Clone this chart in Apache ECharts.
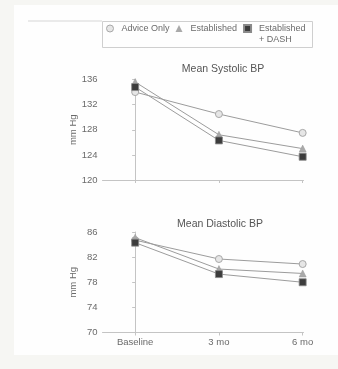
<!DOCTYPE html>
<html><head><meta charset="utf-8">
<script src="https://cdn.jsdelivr.net/npm/echarts@6/dist/echarts.min.js"></script>
<style>html,body{margin:0;padding:0;background:#f6f6f3}#c{width:338px;height:369px}</style>
</head><body><div id="c"></div>
<script>
var categories = ['Baseline', '3 mo', '6 mo'];
var seriesNames = ['Advice Only', 'Established', 'Established + DASH'];
var legendLabels = ['Advice Only', 'Established', ' \nEstablished\n+ DASH'];
var systolicAdvice = [134.0, 130.5, 127.5];
var systolicEstablished = [135.6, 127.2, 125.0];
var systolicDash = [134.8, 126.3, 123.7];
var diastolicAdvice = [84.7, 81.7, 80.9];
var diastolicEstablished = [85.1, 80.1, 79.4];
var diastolicDash = [84.3, 79.3, 78.0];
var systolicTicks = [120, 124, 128, 132, 136];
var diastolicTicks = [70, 74, 78, 82, 86];

var font = '"Liberation Sans", Arial, sans-serif';
var txt = '#6a6a6a';
var axisCol = '#c4c4c4';

function pts(arr){ return arr.map(function(v,i){ return [i, v]; }); }

var styles = [
  {symbol:'circle', size:7, item:{color:'#e6e6e6', borderColor:'#a8a8a8', borderWidth:1}},
  {symbol:'triangle', size:7, item:{color:'#a9a9a9', borderColor:'#9a9a9a', borderWidth:0.5}},
  {symbol:'rect', size:7, item:{color:'#3c3c3c', borderColor:'#8a8a8a', borderWidth:0.8}}
];

function mk(name, data, idx, style){
  return {
    type:'line', name:name, xAxisIndex:idx, yAxisIndex:idx, data:pts(data),
    symbol:style.symbol, symbolSize:style.size, showSymbol:true,
    lineStyle:{color:'#9c9c9c', width:1}, itemStyle:style.item,
    animation:false, z: 3
  };
}

function xAx(idx, showLabels){
  return {
    type:'value', gridIndex:idx, min:-0.39, max:2.01,
    splitLine:{show:false},
    axisLine:{show:true, lineStyle:{color:axisCol, width:1}},
    axisTick:{show:true, customValues:[0,1,2], length:3, lineStyle:{color:axisCol}},
    axisLabel:{show:showLabels, customValues:[0,1,2], margin:5, color:txt, fontSize:9.5, fontFamily:font,
      formatter:function(v){ return categories[Math.round(v)]; }}
  };
}
function yAx(idx, ticks){
  return {
    type:'value', gridIndex:idx, min:ticks[0], max:ticks[ticks.length-1], interval:ticks[1]-ticks[0],
    name:'mm Hg', nameLocation:'middle', nameGap:24, nameRotate:90, nameMoveOverlap:false,
    nameTextStyle:{color:txt, fontSize:9.5, fontFamily:font},
    splitLine:{show:false},
    axisLine:{show:true, lineStyle:{color:axisCol, width:1}},
    axisTick:{show:true, length:3, lineStyle:{color:axisCol}},
    axisLabel:{margin:5, color:txt, fontSize:9.5, fontFamily:font}
  };
}

var chart = echarts.init(document.getElementById('c'), null, {renderer:'canvas'});
chart.setOption({
  backgroundColor:'#f6f6f3',
  animation:false,
  graphic:[
    {type:'rect', shape:{x:14, y:5, width:324, height:350}, style:{fill:'#fefefe'}, z:-10, silent:true},
    {type:'line', shape:{x1:28, y1:21, x2:102, y2:21}, style:{stroke:'#d6d6d6', lineWidth:1}, silent:true},
    {type:'rect', shape:{x:102.5, y:21.5, width:210, height:26}, style:{fill:'none', stroke:'#cfcfcf', lineWidth:1}, silent:true}
  ],
  title:[
    {text:'Mean Systolic BP', left:223, top:64, textAlign:'center', textStyle:{color:'#555', fontSize:10.5, fontWeight:'normal', fontFamily:font}, padding:0},
    {text:'Mean Diastolic BP', left:220, top:219, textAlign:'center', textStyle:{color:'#555', fontSize:10.5, fontWeight:'normal', fontFamily:font}, padding:0}
  ],
  legend:{
    left:106, top:12, itemWidth:7, itemHeight:7, itemGap:6, padding:0,
    textStyle:{color:txt, fontSize:9, fontFamily:font, padding:[0,0,0,3], lineHeight:11},
    formatter:function(n){ return legendLabels[seriesNames.indexOf(n)]; },
    data:[
      {name:seriesNames[0], icon:'circle', itemStyle:styles[0].item},
      {name:seriesNames[1], icon:'triangle', itemStyle:{color:'#a9a9a9', borderWidth:0}},
      {name:seriesNames[2], icon:'rect'}
    ]
  },
  grid:[
    {left:102.5, top:79.5, width:201, height:100.5, containLabel:false},
    {left:102.5, top:232, width:201, height:100.5, containLabel:false}
  ],
  xAxis:[xAx(0,false), xAx(1,true)],
  yAxis:[yAx(0, systolicTicks), yAx(1, diastolicTicks)],
  series:[
    mk(seriesNames[0], systolicAdvice, 0, styles[0]),
    mk(seriesNames[1], systolicEstablished, 0, styles[1]),
    mk(seriesNames[2], systolicDash, 0, styles[2]),
    mk(seriesNames[0], diastolicAdvice, 1, styles[0]),
    mk(seriesNames[1], diastolicEstablished, 1, styles[1]),
    mk(seriesNames[2], diastolicDash, 1, styles[2])
  ]
});
</script></body></html>
